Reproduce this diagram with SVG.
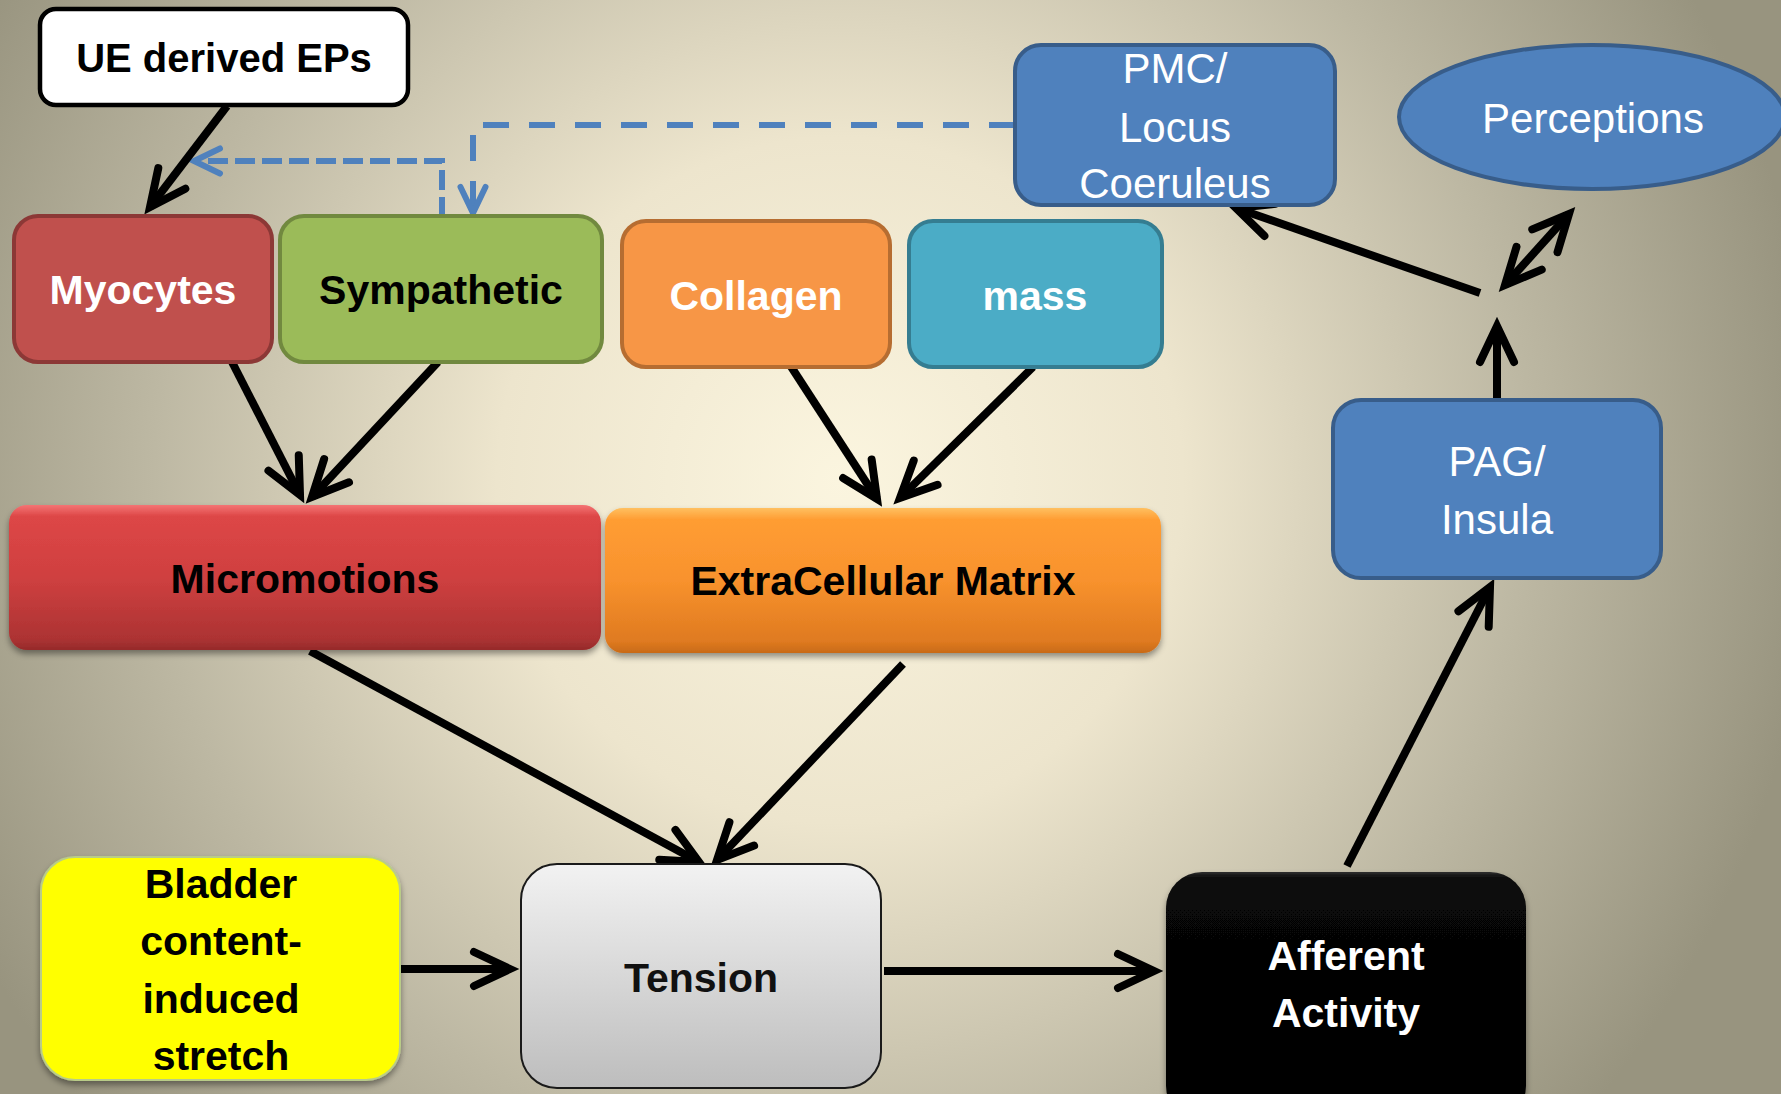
<svg xmlns="http://www.w3.org/2000/svg" width="1781" height="1094" viewBox="0 0 1781 1094">
<defs>
<radialGradient id="bg" gradientUnits="userSpaceOnUse" cx="840" cy="480" r="980">
<stop offset="0" stop-color="#fbf5df"/>
<stop offset="0.35" stop-color="#ede5cd"/>
<stop offset="0.7" stop-color="#bdb8a3"/>
<stop offset="1" stop-color="#98947f"/>
</radialGradient>
<linearGradient id="gRed" x1="0" y1="0" x2="0" y2="1">
<stop offset="0" stop-color="#f47474"/>
<stop offset="0.08" stop-color="#dd4646"/>
<stop offset="0.5" stop-color="#cf4040"/>
<stop offset="0.92" stop-color="#ad3333"/>
<stop offset="1" stop-color="#952a2a"/>
</linearGradient>
<linearGradient id="gOrange" x1="0" y1="0" x2="0" y2="1">
<stop offset="0" stop-color="#ffc060"/>
<stop offset="0.08" stop-color="#ff9d33"/>
<stop offset="0.5" stop-color="#f8922d"/>
<stop offset="0.92" stop-color="#df7a20"/>
<stop offset="1" stop-color="#c86a18"/>
</linearGradient>
<linearGradient id="gGray" x1="0" y1="0" x2="0" y2="1">
<stop offset="0" stop-color="#f2f2f2"/>
<stop offset="1" stop-color="#bdbdbd"/>
</linearGradient>
<linearGradient id="gBlack" x1="0" y1="0" x2="0" y2="1">
<stop offset="0" stop-color="#2e2e2e"/>
<stop offset="0.025" stop-color="#080808"/>
<stop offset="1" stop-color="#000000"/>
</linearGradient>
<filter id="shadow" x="-10%" y="-10%" width="120%" height="130%">
<feDropShadow dx="0" dy="4" stdDeviation="3" flood-color="#000" flood-opacity="0.4"/>
</filter>
<marker id="ah" markerUnits="userSpaceOnUse" viewBox="-50 -30 60 60" markerWidth="60" markerHeight="60" refX="0" refY="0" orient="auto" overflow="visible">
<path d="M-36,-17 L0,0 L-36,17" fill="none" stroke="#000" stroke-width="8" stroke-linecap="round" stroke-linejoin="miter" stroke-miterlimit="10"/>
</marker>
<marker id="ahs" markerUnits="userSpaceOnUse" viewBox="-50 -30 60 60" markerWidth="60" markerHeight="60" refX="0" refY="0" orient="auto-start-reverse" overflow="visible">
<path d="M-36,-17 L0,0 L-36,17" fill="none" stroke="#000" stroke-width="8" stroke-linecap="round" stroke-linejoin="miter" stroke-miterlimit="10"/>
</marker>
<marker id="bh" markerUnits="userSpaceOnUse" viewBox="-40 -20 50 40" markerWidth="50" markerHeight="40" refX="0" refY="0" orient="auto" overflow="visible">
<path d="M-26,-12.5 L0,0 L-26,12.5" fill="none" stroke="#4f81bd" stroke-width="6" stroke-linecap="round" stroke-linejoin="miter" stroke-miterlimit="10"/>
</marker>
</defs>
<style>
.b{font-family:"Liberation Sans",Arial,sans-serif;font-weight:bold;font-size:41px;text-anchor:middle}
.r{font-family:"Liberation Sans",Arial,sans-serif;font-size:42px;text-anchor:middle;fill:#fff}
.w{fill:#fff}
.k{fill:#000}
.blue{fill:#4f81bd;stroke:#385d8a;stroke-width:4}
.arr{fill:none;stroke:#000;stroke-width:8;marker-end:url(#ah)}
.dash{fill:none;stroke:#4f81bd;stroke-width:6;marker-end:url(#bh)}
</style>
<rect x="0" y="0" width="1781" height="1094" fill="url(#bg)"/>

<g id="connectors">
<path class="dash" d="M1015,125 H473 V213" stroke-dasharray="26 20"/>
<path class="dash" d="M442,217 V161 H194" stroke-dasharray="20 7"/>
<line class="arr" x1="227" y1="106" x2="150" y2="207"/>
<line class="arr" x1="232" y1="362" x2="300" y2="495"/>
<line class="arr" x1="438" y1="362" x2="312" y2="497"/>
<line class="arr" x1="790" y1="365" x2="877" y2="499"/>
<line class="arr" x1="1033" y1="367" x2="900" y2="498"/>
<line class="arr" x1="310" y1="651" x2="699" y2="862"/>
<line class="arr" x1="903" y1="664" x2="717" y2="860"/>
<line class="arr" x1="400" y1="969" x2="510" y2="969"/>
<line class="arr" x1="884" y1="971" x2="1154" y2="971"/>
<line class="arr" x1="1347" y1="866" x2="1490" y2="587"/>
<line class="arr" x1="1497" y1="400" x2="1497" y2="326"/>
<line class="arr" x1="1480" y1="293" x2="1236" y2="208"/>
<line class="arr" x1="1505" y1="285" x2="1569" y2="214" style="marker-start:url(#ahs)"/>
</g>

<g id="ue">
<rect x="40" y="9" width="368" height="96" rx="16" fill="#fff" stroke="#000" stroke-width="4.5"/>
<text class="b k" x="224" y="72" style="font-size:40px">UE derived EPs</text>
</g>
<g id="myocytes">
<rect x="14" y="216" width="258" height="146" rx="24" fill="#c0504d" stroke="#8c3836" stroke-width="4"/>
<text class="b w" x="143" y="304">Myocytes</text>
</g>
<g id="sympathetic">
<rect x="280" y="216" width="322" height="146" rx="24" fill="#9bbb59" stroke="#71893f" stroke-width="4"/>
<text class="b k" x="441" y="304">Sympathetic</text>
</g>
<g id="collagen">
<rect x="622" y="221" width="268" height="146" rx="24" fill="#f79646" stroke="#b66d31" stroke-width="4"/>
<text class="b w" x="756" y="310">Collagen</text>
</g>
<g id="mass">
<rect x="909" y="221" width="253" height="146" rx="24" fill="#4bacc6" stroke="#357d91" stroke-width="4"/>
<text class="b w" x="1035" y="310">mass</text>
</g>
<g id="pmc">
<rect class="blue" x="1015" y="45" width="320" height="160" rx="26"/>
<text class="r" x="1175" y="83">PMC/</text>
<text class="r" x="1175" y="142">Locus</text>
<text class="r" x="1175" y="198">Coeruleus</text>
</g>
<g id="perceptions">
<ellipse class="blue" cx="1592" cy="117" rx="193" ry="72"/>
<text class="r" x="1593" y="133">Perceptions</text>
</g>
<g id="pag">
<rect class="blue" x="1333" y="400" width="328" height="178" rx="28"/>
<text class="r" x="1497" y="476">PAG/</text>
<text class="r" x="1497" y="534">Insula</text>
</g>
<g id="micromotions">
<rect x="9" y="505" width="592" height="145" rx="18" fill="url(#gRed)" filter="url(#shadow)"/>
<text class="b k" x="305" y="593">Micromotions</text>
</g>
<g id="ecm">
<rect x="605" y="508" width="556" height="145" rx="18" fill="url(#gOrange)" filter="url(#shadow)"/>
<text class="b k" x="883" y="595">ExtraCellular Matrix</text>
</g>
<g id="bladder">
<rect x="41" y="857" width="359" height="223" rx="34" fill="#ffff00" stroke="#b9cc88" stroke-width="2" filter="url(#shadow)"/>
<text class="b k" x="221" y="898">Bladder</text>
<text class="b k" x="221" y="955">content-</text>
<text class="b k" x="221" y="1013">induced</text>
<text class="b k" x="221" y="1070">stretch</text>
</g>
<g id="tension">
<rect x="521" y="864" width="360" height="224" rx="36" fill="url(#gGray)" stroke="#1a1a1a" stroke-width="2"/>
<text class="b" x="701" y="992" fill="#111">Tension</text>
</g>
<g id="afferent">
<rect x="1166" y="872" width="360" height="250" rx="36" fill="url(#gBlack)" filter="url(#shadow)"/>
<text class="b w" x="1346" y="970">Afferent</text>
<text class="b w" x="1346" y="1027">Activity</text>
</g>
</svg>
